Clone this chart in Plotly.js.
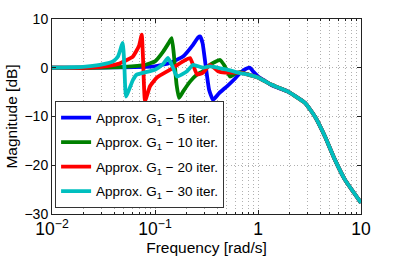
<!DOCTYPE html>
<html><head><meta charset="utf-8">
<script src="https://cdn.plot.ly/plotly-3.0.1.min.js"></script>
<style>body{margin:0;background:#fff}#c{width:399px;height:256px}</style>
</head><body><div id="c"></div>
<script>
// Frequency [rad/s] and magnitude [dB]
const f5  = [0.01,0.02,0.03,0.05,0.08,0.1,0.14,0.187,0.234,0.262,0.275,0.29,0.31,0.335,0.366,0.42,0.5,0.6,0.668,0.75,0.836,0.9,1.0,1.15,1.358,1.955,2.86,3.57,4.47,5.59,7.0,10];
const m5  = [0,0,0.05,0.1,0.2,0.3,1.0,2.3,4.7,6.2,6.4,5.0,0.5,-4.5,-6.6,-5.2,-3.8,-2.2,-1.1,-0.3,0.0,-0.8,-1.8,-2.6,-3.6,-4.9,-7.2,-10,-14.1,-18.9,-23,-27.7];

const f10 = [0.01,0.02,0.05,0.08,0.1,0.12,0.135,0.1453,0.152,0.162,0.171,0.187,0.22,0.256,0.2923,0.342,0.39,0.428,0.47,0.535,0.6,0.668,0.836,1.0,1.358,1.955,2.86,3.57,4.47,5.59,7.0,10];
const m10 = [0,0,0.2,0.6,1.3,3.3,5.0,6.1,3.0,-3.5,-6.2,-4.9,-2.8,-1.4,-0.7,0.6,1.3,1.6,0.5,-1.8,-1.2,-0.9,-1.5,-2.0,-3.5,-4.9,-7.2,-10,-14.1,-18.9,-23,-27.7];

const f20 = [0.01,0.02,0.03,0.044,0.061,0.07,0.0743,0.0765,0.080,0.0894,0.1045,0.14,0.187,0.2188,0.235,0.256,0.2923,0.342,0.409,0.4786,0.668,0.836,1.0,1.358,1.955,2.86,3.57,4.47,5.59,7.0,10];
const m20 = [0,0,0.2,0.8,2.3,4.5,6.8,2.0,-6.8,-3.8,-2.0,-0.4,1.3,2.0,0.5,-1.4,-1.0,0.6,-0.7,-1.0,-1.0,-1.5,-2.0,-3.5,-4.9,-7.2,-10,-14.1,-18.9,-23,-27.7];

const f30 = [0.01,0.02,0.0292,0.0391,0.0437,0.0486,0.0505,0.0523,0.0611,0.0664,0.1,0.12,0.1337,0.15,0.1636,0.2047,0.2339,0.2923,0.342,0.5,0.668,0.836,1.0,1.358,1.955,2.86,3.57,4.47,5.59,7.0,10];
const m30 = [0,0.2,0.6,1.3,2.3,5.1,0.0,-5.9,-2.5,-1.4,-0.4,0.8,2.0,0.0,-1.8,-0.7,0.6,0.0,0.3,-0.4,-1.1,-1.5,-2.0,-3.5,-4.9,-7.2,-10,-14.1,-18.9,-23,-27.7];

const names = ['Approx. G<sub>1</sub> − 5 iter.','Approx. G<sub>1</sub> − 10 iter.','Approx. G<sub>1</sub> − 20 iter.','Approx. G<sub>1</sub> − 30 iter.'];
const colors = ['#0000ff','#008000','#ff0000','#00bfbf'];
const xs = [f5,f10,f20,f30], ys = [m5,m10,m20,m30];

const traces = xs.map((x,i)=>({
  x:x, y:ys[i], type:'scatter', mode:'lines', name:names[i],
  legendgroup:'g'+i,
  line:{color:colors[i], width:3.8, shape:'spline', smoothing:0.4}
}));

const fam = 'Liberation Sans, Arial, sans-serif';
const grid = {gridcolor:'#b0b0b0', griddash:'1px,2.5px', gridwidth:1};
const layout = {
  width:399, height:256,
  margin:{l:52, r:38, t:19, b:42},
  paper_bgcolor:'#fff', plot_bgcolor:'#fff',
  font:{family:fam, size:14, color:'#000'},
  showlegend:true,
  legend:{x:0.01, y:0.578, xanchor:'left', yanchor:'top', bgcolor:'#fff',
          bordercolor:'#333', borderwidth:1, font:{family:fam, size:13.5, color:'#000'},
          traceorder:'grouped', tracegroupgap:4, itemwidth:30},
  xaxis:Object.assign({type:'log', range:[-2,1], dtick:1, exponentformat:'power',
         showline:true, linecolor:'#222', linewidth:1, mirror:'ticks',
         ticks:'inside', ticklen:4, tickcolor:'#222',
         showgrid:true,
         minor:Object.assign({showgrid:true, ticks:'inside', ticklen:2, tickcolor:'#222'}, grid),
         zeroline:false,
         title:{text:'Frequency [rad/s]', font:{family:fam, size:15.5}, standoff:1},
         tickfont:{family:fam, size:14}}, grid),
  yaxis:Object.assign({range:[-30,10], dtick:10,
         showline:true, linecolor:'#222', linewidth:1, mirror:'ticks',
         ticks:'inside', ticklen:4, tickcolor:'#222',
         showgrid:true,
         zeroline:false,
         title:{text:'Magnitude [dB]', font:{family:fam, size:15.5}, standoff:3},
         tickfont:{family:fam, size:14}}, grid)
};
Plotly.newPlot('c', traces, layout, {staticPlot:true, displayModeBar:false});
</script></body></html>
